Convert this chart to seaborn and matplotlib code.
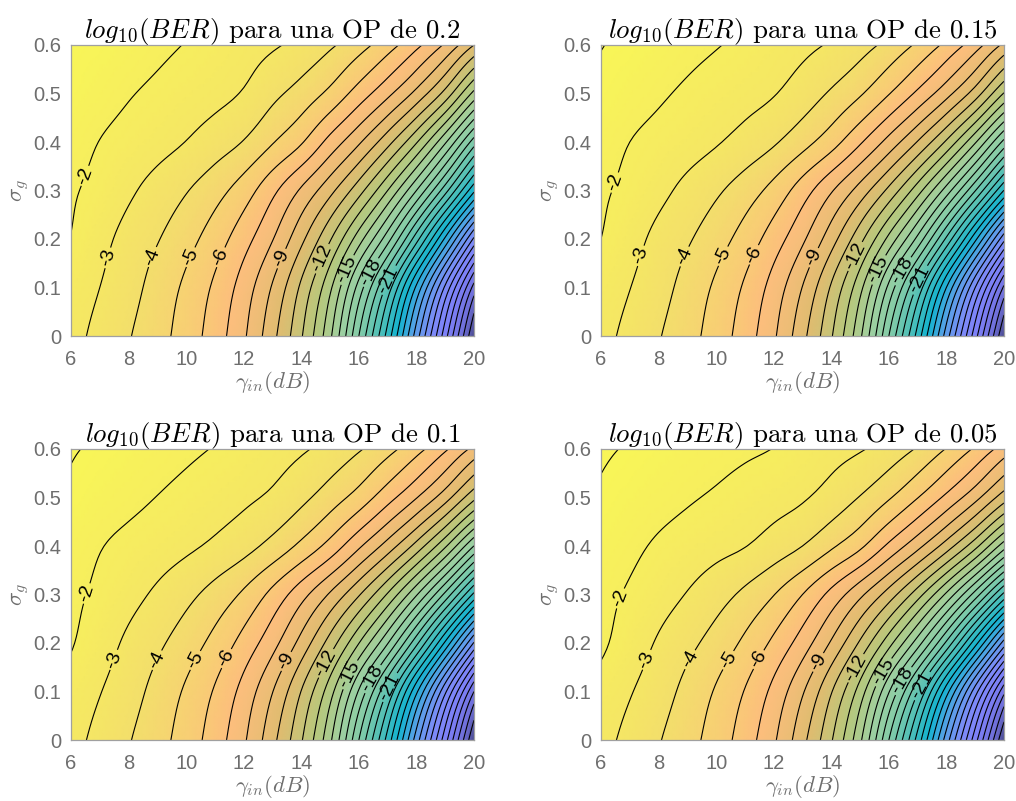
import matplotlib

matplotlib.use("Agg")
import matplotlib.pyplot as plt
import numpy as np
import seaborn as sns

# Axes of the value grids
gamma_db = [6, 7, 8, 9, 10, 11, 12, 13, 14, 15, 16, 17, 18, 19, 20]
sigma_g = [0, 0.1, 0.2, 0.3, 0.4, 0.5, 0.6]

# log10(BER), one row per sigma_g
ber_sigma_0 = [-2.7, -3.27, -3.93, -4.64, -5.45, -6.5, -7.85, -9.7, -11.9, -14.8, -19, -23.4, -28.5, -33.6, -39]

ber_op_20 = [
    ber_sigma_0,
    [-2.45, -3.0, -3.62, -4.4, -5.2, -6.18, -7.45, -9.1, -11.2, -13.8, -17.4, -21.4, -26.2, -31.2, -36.4],
    [-2.03, -2.7, -3.33, -3.94, -4.64, -5.5, -6.6, -7.95, -9.75, -11.9, -14.55, -17.6, -21.6, -26.2, -31.2],
    [-1.88, -2.3, -2.84, -3.37, -3.94, -4.62, -5.5, -6.75, -8.15, -9.7, -11.6, -14, -17, -20.6, -24.8],
    [-1.6, -2.02, -2.35, -2.66, -3.02, -3.5, -4.05, -4.93, -5.9, -7.35, -8.85, -10.65, -12.9, -15.85, -19.5],
    [-1.25, -1.6, -1.93, -2.2, -2.48, -2.72, -3.08, -3.75, -4.4, -5.25, -6.45, -7.75, -9.3, -11.35, -14.3],
    [-1.0, -1.25, -1.52, -1.78, -2.04, -2.32, -2.6, -2.88, -3.28, -3.85, -4.6, -5.58, -6.75, -8.15, -10],
]

ber_op_15 = [
    ber_sigma_0,
    [-2.43, -2.98, -3.6, -4.37, -5.17, -6.14, -7.4, -9.03, -11.12, -13.7, -17.26, -21.24, -26.01, -31.0, -36.19],
    [-2.0, -2.63, -3.27, -3.88, -4.57, -5.41, -6.49, -7.82, -9.57, -11.69, -14.29, -17.29, -21.2, -25.74, -30.7],
    [-1.85, -2.25, -2.74, -3.27, -3.84, -4.5, -5.34, -6.52, -7.9, -9.42, -11.26, -13.57, -16.46, -19.95, -24.04],
    [-1.6, -2.0, -2.3, -2.58, -2.92, -3.35, -3.88, -4.64, -5.58, -6.87, -8.36, -10.06, -12.16, -14.88, -18.3],
    [-1.22, -1.57, -1.87, -2.15, -2.42, -2.66, -2.95, -3.47, -4.13, -4.89, -5.95, -7.2, -8.65, -10.49, -13.07],
    [-0.97, -1.2, -1.47, -1.72, -1.95, -2.2, -2.5, -2.76, -3.11, -3.61, -4.29, -5.17, -6.26, -7.56, -9.22],
]

ber_op_10 = [
    ber_sigma_0,
    [-2.41, -2.96, -3.57, -4.34, -5.14, -6.1, -7.35, -8.97, -11.03, -13.59, -17.11, -21.08, -25.8, -30.8, -36.0],
    [-1.92, -2.55, -3.19, -3.81, -4.49, -5.31, -6.36, -7.65, -9.35, -11.43, -13.97, -16.93, -20.72, -25.19, -30.1],
    [-1.78, -2.2, -2.68, -3.17, -3.73, -4.37, -5.17, -6.29, -7.63, -9.13, -10.9, -13.11, -15.89, -19.27, -23.25],
    [-1.56, -1.95, -2.25, -2.52, -2.82, -3.18, -3.65, -4.33, -5.24, -6.36, -7.83, -9.43, -11.37, -13.84, -17.02],
    [-1.17, -1.5, -1.76, -2.02, -2.28, -2.55, -2.82, -3.17, -3.75, -4.51, -5.41, -6.62, -7.95, -9.57, -11.73],
    [-0.93, -1.14, -1.37, -1.6, -1.82, -2.05, -2.32, -2.6, -2.88, -3.32, -3.9, -4.67, -5.66, -6.85, -8.28],
]

ber_op_05 = [
    ber_sigma_0,
    [-2.38, -2.93, -3.54, -4.3, -5.1, -6.05, -7.28, -8.89, -10.93, -13.46, -16.93, -20.88, -25.58, -30.55, -35.72],
    [-1.82, -2.47, -3.11, -3.73, -4.39, -5.2, -6.21, -7.48, -9.12, -11.15, -13.62, -16.53, -20.2, -24.59, -29.45],
    [-1.72, -2.12, -2.58, -3.05, -3.6, -4.21, -4.97, -6.0, -7.31, -8.77, -10.46, -12.56, -15.2, -18.44, -22.28],
    [-1.42, -1.78, -2.13, -2.42, -2.7, -2.97, -3.45, -4.0, -4.84, -5.8, -7.21, -8.7, -10.47, -12.67, -15.55],
    [-1.12, -1.42, -1.67, -1.9, -2.12, -2.37, -2.62, -2.9, -3.4, -4.05, -4.9, -5.97, -7.23, -8.68, -10.53],
    [-0.88, -1.08, -1.3, -1.5, -1.68, -1.85, -2.02, -2.35, -2.65, -2.92, -3.4, -4.1, -5.05, -6.15, -7.45],
]

op_labels = ["0.2", "0.15", "0.1", "0.05"]
label_levels = [-21, -18, -15, -12, -9, -6, -5, -4, -3, -2]
plain_levels = [lev for lev in range(-45, 0) if lev not in label_levels]

# Where the contour labels sit
label_spots_20 = [(6.5, 0.33), (7.35, 0.16), (8.95, 0.16), (10.25, 0.16), (11.3, 0.16), (13.3, 0.16), (14.7, 0.16), (15.65, 0.135), (16.45, 0.13), (17.05, 0.115)]
label_spots_15 = [(6.55, 0.315), (7.4, 0.165), (9.05, 0.16), (10.4, 0.16), (11.4, 0.165), (13.45, 0.16), (14.8, 0.165), (15.7, 0.135), (16.45, 0.135), (17.1, 0.115)]
label_spots_10 = [(6.65, 0.3), (7.5, 0.165), (9.15, 0.16), (10.45, 0.16), (11.5, 0.165), (13.55, 0.16), (14.8, 0.16), (15.85, 0.13), (16.5, 0.125), (17.2, 0.105)]
label_spots_05 = [(6.75, 0.29), (7.6, 0.165), (9.27, 0.16), (10.55, 0.16), (11.65, 0.16), (13.55, 0.16), (14.95, 0.145), (15.8, 0.14), (16.55, 0.12), (17.2, 0.11)]

# Colour nodes, from log10(BER) = -1 down to -40 in steps of 3
cmap_nodes = [
    "#f8f558", "#f3de6c", "#fdbe7d", "#e0bc70", "#b8c87c", "#a0d0a0", "#84cca8",
    "#50c0b8", "#14b4d0", "#5aa0e8", "#7d8cf8", "#7d80f8", "#6f6fd8", "#3c3c6e",
]

grey = "#6e6e6e"
STEPS = 8


def smooth_axis(values, first, last):
    # Catmull-Rom through the table values, so the isolines do not look faceted
    pts = np.concatenate([[first], values, [last]])
    t = np.arange(STEPS) / STEPS
    out = []
    for i in range(1, len(pts) - 2):
        p0, p1, p2, p3 = pts[i - 1], pts[i], pts[i + 1], pts[i + 2]
        out.append(0.5 * (2 * p1 + (p2 - p0) * t + (2 * p0 - 5 * p1 + 4 * p2 - p3) * t**2 + (3 * p1 - p0 - 3 * p2 + p3) * t**3))
    out.append([values[-1]])
    return np.concatenate(out)


def smooth_grid(grid):
    grid = np.array(grid, dtype=float)
    by_sigma = np.array([smooth_axis(col, col[0] - 0.6 * (col[1] - col[0]), 2 * col[-1] - col[-2]) for col in grid.T]).T
    return np.array([smooth_axis(row, 2 * row[0] - row[1], 2 * row[-1] - row[-2]) for row in by_sigma])


sns.set_theme(style="ticks")
plt.rcParams["font.family"] = ["Liberation Sans", "DejaVu Sans"]
plt.rcParams["mathtext.fontset"] = "cm"
plt.rcParams["axes.unicode_minus"] = False

ber_cmap = sns.blend_palette(cmap_nodes[::-1], as_cmap=True)

fig = plt.figure(figsize=(10.16, 8.01), dpi=100)
boxes = [(71, 45), (601, 45), (71, 449), (601, 449)]
grids = [ber_op_20, ber_op_15, ber_op_10, ber_op_05]
spots = [label_spots_20, label_spots_15, label_spots_10, label_spots_05]

fine_gamma = smooth_axis(np.array(gamma_db, dtype=float), 5.0, 21.0)
fine_sigma = smooth_axis(np.array(sigma_g, dtype=float), -0.1, 0.7)

for (left, top), grid, spot, op in zip(boxes, grids, spots, op_labels):
    ax = fig.add_axes([left / 1016, 1 - (top + 291) / 801, 403 / 1016, 291 / 801])

    fine_z = smooth_grid(grid)
    ax.pcolormesh(fine_gamma, fine_sigma, fine_z, shading="gouraud", cmap=ber_cmap, vmin=-40, vmax=-1, rasterized=True)
    ax.contour(fine_gamma, fine_sigma, fine_z, levels=plain_levels, colors="black", linewidths=0.8, linestyles="solid")
    lines = ax.contour(fine_gamma, fine_sigma, fine_z, levels=sorted(label_levels), colors="black", linewidths=0.8, linestyles="solid")
    ax.clabel(lines, manual=spot, fmt="%d", fontsize=14, inline=True, inline_spacing=2, colors="black")

    ax.set_xlim(6, 20)
    ax.set_ylim(0, 0.6)
    ax.set_xticks(range(6, 21, 2))
    ax.set_yticks([0, 0.1, 0.2, 0.3, 0.4, 0.5, 0.6])
    ax.set_yticklabels(["0", "0.1", "0.2", "0.3", "0.4", "0.5", "0.6"])
    ax.tick_params(direction="in", length=3, width=0.7, color="#8c8c8c", labelcolor=grey, labelsize=14.5, top=True, right=True, pad=7)
    ax.tick_params(axis="x", pad=10)
    for spine in ax.spines.values():
        spine.set_color("#a0a0a0")
        spine.set_linewidth(0.9)
    ax.set_xlabel(r"$\gamma_{in}(dB)$", color=grey, fontsize=16.5, labelpad=0)
    ax.set_ylabel(r"$\sigma_g$", color=grey, fontsize=16.5, labelpad=1)
    ax.set_title(rf"$log_{{10}}(BER)$ para una OP de {op}", family="cmr10", fontsize=19.3, color="black", pad=5)

plt.savefig("out.png", dpi=100)
